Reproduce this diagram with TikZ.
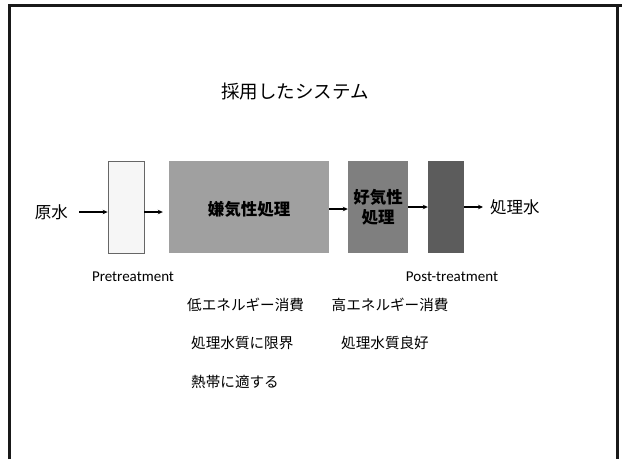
\documentclass[tikz,border=0pt]{standalone}
\usepackage{fontspec}
\setmainfont{Carlito}
\newfontfamily\jp{Noto Sans CJK JP}
\usetikzlibrary{arrows.meta, positioning}
\definecolor{preFill}{HTML}{F6F6F6}
\definecolor{anaerFill}{HTML}{A0A0A0}
\definecolor{aerFill}{HTML}{7F7F7F}
\definecolor{postFill}{HTML}{5C5C5C}

\begin{document}
\begin{tikzpicture}[x=1pt, y=-1pt,
    tank/.style={inner sep=0pt, minimum height=92pt},
    flow/.style={line width=1.2pt, -{Stealth[length=5pt, width=4.5pt]}},
    jtext/.style={font=\jp\fontsize{16.5}{20}\selectfont},
    note/.style={font=\jp\fontsize{14.6}{17}\selectfont, anchor=west, inner sep=0pt},
    eng/.style={font=\fontsize{15}{18}\selectfont}]
    \useasboundingbox (0,0) rectangle (622,459);
    % Frame
    \draw[line width=3pt, black!90] (9.5,459) -- (9.5,5) -- (622,5);
    \draw[line width=3pt, black!90] (617.5,5) -- (617.5,459);

    % Title
    \node[font=\jp\fontsize{18.5}{22}\selectfont] (title) at (295, 92) {採用したシステム};

    % Tanks
    \node[tank, fill=preFill, draw=black!60, line width=0.8pt, minimum width=36pt] (pre) at (126, 207) {};
    \node[tank, fill=anaerFill, minimum width=160pt, jtext] (anaer) at (249, 207) {};
    \node[jtext, font=\jp\bfseries\fontsize{16.5}{20}\selectfont] (anaertxt) at (249, 209) {嫌気性処理};
    \node[tank, fill=aerFill, minimum width=60pt, align=center,
          font=\jp\bfseries\fontsize{16.5}{20}\selectfont] (aer) at (378, 207) {好気性\\処理};
    \node[tank, fill=postFill, minimum width=36pt] (post) at (446, 207) {};

    % In and out
    \node[jtext, anchor=east, inner sep=0pt] (raw) at (68, 212) {原水};
    \node[jtext, anchor=west, inner sep=0pt] (out) at (490, 207) {処理水};

    \draw[flow, shorten <=11pt] (raw.east) -- (raw.east -| pre.west);
    \draw[flow, shorten >=6pt] (pre.east |- raw) -- (anaer.west |- raw);
    \draw[flow] (anaer.east |- anaertxt) -- (aer.west |- anaertxt);
    \draw[flow] (aer.east) -- (post.west);
    \draw[flow, shorten >=7pt] (post.east) -- (out.west);

    % Labels
    \node[eng] (pretxt) at (133, 277) {Pretreatment};
    \node[eng] (posttxt) at (452, 277) {Post-treatment};

    % Notes
    \node[note] (lowE) at (187, 305) {低エネルギー消費};
    \node[note] (highE) at (331.5, 305) {高エネルギー消費};
    \node[note] (limQ) at (191, 343) {処理水質に限界};
    \node[note] (goodQ) at (341, 343) {処理水質良好};
    \node[note] (hot) at (191, 382) {熱帯に適する};
\end{tikzpicture}
\end{document}
